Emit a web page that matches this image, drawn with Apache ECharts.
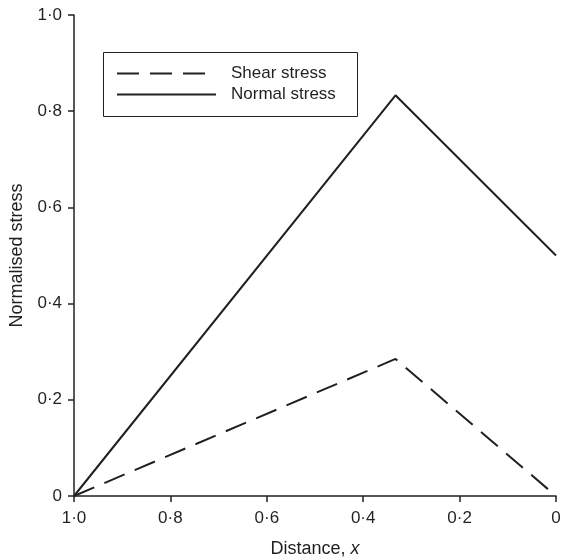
<!DOCTYPE html>
<html>
<head>
<meta charset="utf-8">
<script src="https://cdn.jsdelivr.net/npm/echarts@6/dist/echarts.min.js"></script>
<style>
  html, body { margin: 0; padding: 0; background: #fff; }
  #main { width: 567px; height: 558px; }
</style>
</head>
<body>
<div id="main"></div>
<script>
// data
var seriesNames = ['Shear stress', 'Normal stress'];
var shearStress = [[1.0, 0], [0.333, 0.285], [0, 0]];
var normalStress = [[1.0, 0], [0.333, 0.833], [0, 0.5]];
var tickStep = 0.2;

var ink = '#231f20';
var font = 'Liberation Sans, Arial, sans-serif';

function tickLabel(v) {
  if (v === 0) return '0';
  return v.toFixed(1).replace('.', '·');
}

var myChart = echarts.init(document.getElementById('main'), null, { renderer: 'canvas' });

var option = {
  animation: false,
  backgroundColor: '#fff',
  grid: { left: 74, right: 11, top: 15, bottom: 62, outerBoundsMode: 'none' },
  legend: {
    orient: 'vertical',
    left: 103,
    top: 52,
    padding: [13, 14, 14, 13],
    itemWidth: 99,
    itemHeight: 14,
    itemGap: 4,
    data: seriesNames,
    itemStyle: { opacity: 0 },
    textStyle: { color: ink, fontSize: 17, fontFamily: font, padding: [0, 0, 0, 10] }
  },
  graphic: [{
    type: 'rect',
    shape: { x: 103.5, y: 52.5, width: 254, height: 64 },
    style: { fill: 'none', stroke: ink, lineWidth: 1 },
    silent: true
  }],
  xAxis: {
    type: 'value',
    min: 0,
    max: 1,
    interval: tickStep,
    inverse: true,
    name: 'Distance, {i|x}',
    nameLocation: 'middle',
    nameGap: 44,
    nameTextStyle: {
      color: ink, fontSize: 18, fontFamily: font,
      rich: { i: { fontStyle: 'italic', fontSize: 18, fontFamily: font, color: ink } }
    },
    axisLine: { show: true, onZero: false, lineStyle: { color: ink, width: 1.5 } },
    axisTick: { show: true, inside: false, length: 6, lineStyle: { color: ink, width: 1.5 } },
    axisLabel: { color: ink, fontSize: 17, fontFamily: font, margin: 14, formatter: tickLabel },
    splitLine: { show: false }
  },
  yAxis: {
    type: 'value',
    position: 'left',
    min: 0,
    max: 1,
    interval: tickStep,
    name: 'Normalised stress',
    nameLocation: 'middle',
    nameGap: 44,
    nameTextStyle: { color: ink, fontSize: 18, fontFamily: font },
    axisLine: { show: true, onZero: false, lineStyle: { color: ink, width: 1.5 } },
    axisTick: { show: true, inside: false, length: 6, lineStyle: { color: ink, width: 1.5 } },
    axisLabel: { color: ink, fontSize: 17, fontFamily: font, margin: 12, formatter: tickLabel },
    splitLine: { show: false }
  },
  series: [
    {
      name: seriesNames[0],
      type: 'line',
      data: shearStress,
      symbol: 'none',
      color: ink,
      lineStyle: { color: ink, width: 2, type: [22, 11] }
    },
    {
      name: seriesNames[1],
      type: 'line',
      data: normalStress,
      symbol: 'none',
      color: ink,
      lineStyle: { color: ink, width: 2 }
    }
  ]
};

myChart.setOption(option);
</script>
</body>
</html>
